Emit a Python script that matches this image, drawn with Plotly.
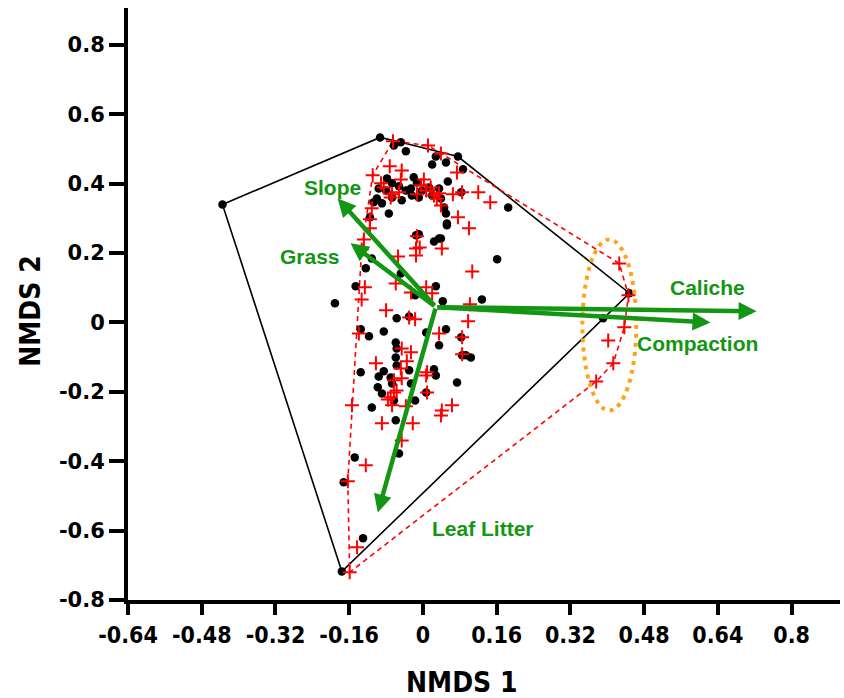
import plotly.graph_objects as go

# ---------------- data ----------------
# Group 1 (black dots) NMDS scores
black_x = [-0.435, -0.093, -0.048, 0.076, 0.448, 0.391, -0.176, -0.063, -0.037, 0.028,
           0.020, 0.050, 0.087, 0.054, -0.078, -0.067, -0.096, -0.080, -0.052, -0.037,
           -0.020, -0.013, -0.026, -0.024, -0.046, -0.067, -0.089, -0.100, -0.074, 0.035,
           0.039, 0.046, 0.050, 0.052, 0.013, 0.020, -0.002, -0.009, -0.115, -0.107,
           0.083, 0.039, 0.185, 0.161, 0.043, 0.128, 0.050, -0.009, 0.035, 0.024,
           -0.124, -0.111, -0.146, -0.191, 0.028, -0.017, -0.048, -0.057, -0.030, -0.135,
           -0.085, -0.117, -0.059, -0.057, -0.059, 0.035, -0.135, -0.096, -0.085, -0.070,
           -0.057, -0.030, -0.067, -0.098, -0.089, -0.026, 0.024, 0.028, 0.074, 0.085,
           0.104, 0.007, -0.017, -0.111, -0.063, -0.059, -0.052, -0.148, -0.172, -0.130,
           0.083, 0.093, 0.007, -0.015, 0.052]
black_y = [0.340, 0.533, 0.519, 0.478, 0.084, 0.012, -0.718, 0.510, 0.493, 0.478,
           0.455, 0.461, 0.441, 0.406, 0.415, 0.401, 0.386, 0.380, 0.392, 0.380,
           0.418, 0.403, 0.386, 0.366, 0.352, 0.360, 0.343, 0.357, 0.314, 0.386,
           0.357, 0.331, 0.314, 0.285, 0.389, 0.366, 0.380, 0.360, 0.303, 0.346,
           0.375, 0.242, 0.331, 0.182, 0.061, 0.066, -0.020, 0.254, 0.242, 0.233,
           0.156, 0.184, 0.104, 0.055, 0.104, 0.078, 0.141, 0.012, 0.017, -0.020,
           -0.026, -0.040, -0.058, -0.075, -0.101, -0.066, -0.144, -0.156, -0.141, -0.159,
           -0.124, -0.138, -0.176, -0.187, -0.205, -0.176, -0.135, -0.153, -0.173, -0.095,
           -0.101, -0.202, -0.225, -0.245, -0.225, -0.282, -0.378, -0.389, -0.461, -0.622,
           -0.043, -0.095, -0.029, 0.251, 0.280]

# Group 2 (red crosses) NMDS scores
red_x = [-0.159, -0.065, 0.011, 0.039, -0.072, -0.046, -0.109, -0.091, -0.048, 0.002,
         -0.067, -0.052, -0.085, -0.004, 0.007, 0.017, 0.024, -0.013, 0.035, 0.030,
         0.039, 0.074, 0.085, 0.065, 0.120, 0.076, 0.100, -0.070, -0.111, -0.115,
         -0.115, 0.146, 0.041, 0.107, 0.102, 0.098, -0.054, -0.015, -0.007, -0.128,
         -0.013, -0.015, -0.133, -0.126, -0.133, -0.059, 0.007, 0.020, -0.026, -0.080,
         -0.017, -0.030, 0.035, -0.139, 0.085, -0.046, -0.026, -0.102, -0.035, -0.048,
         -0.046, 0.007, 0.009, 0.085, -0.063, -0.063, -0.057, -0.070, -0.076, -0.067,
         0.009, -0.154, 0.063, 0.041, 0.039, -0.037, -0.089, -0.022, -0.046, -0.124,
         -0.163, -0.143, 0.426, 0.446, 0.437, 0.402, 0.413, 0.376]
red_y = [-0.720, 0.522, 0.510, 0.487, 0.450, 0.438, 0.424, 0.401, 0.412, 0.412,
         0.369, 0.375, 0.389, 0.395, 0.380, 0.389, 0.366, 0.369, 0.372, 0.357,
         0.337, 0.432, 0.375, 0.369, 0.375, 0.303, 0.271, 0.360, 0.329, 0.297,
         0.271, 0.346, 0.213, 0.147, 0.052, 0.003, 0.190, 0.213, 0.216, 0.239,
         0.248, 0.193, 0.210, 0.101, 0.066, 0.112, 0.101, 0.084, 0.086, 0.035,
         0.009, 0.014, -0.032, -0.032, -0.043, -0.075, -0.086, -0.118, -0.112, -0.133,
         -0.161, -0.153, -0.144, -0.092, -0.167, -0.202, -0.196, -0.216, -0.222, -0.239,
         -0.202, -0.239, -0.239, -0.254, -0.268, -0.242, -0.291, -0.291, -0.340, -0.412,
         -0.458, -0.648, 0.170, 0.078, -0.014, -0.052, -0.118, -0.170]

# Environmental vectors (fitted), common origin
vec_names = ["Slope", "Grass", "Caliche", "Compaction", "Leaf Litter"]
vec_origin = (0.028, 0.044)
vec_x = [-0.185, -0.157, 0.724, 0.624, -0.098]
vec_y = [0.357, 0.228, 0.032, 0.000, -0.548]

# Label positions for the vectors
label_x = [-0.196, -0.246, 0.617, 0.595, 0.130]
label_y = [0.390, 0.190, 0.101, -0.061, -0.594]

# Highlighted group (ellipse bounds)
ell_x = [0.346, 0.463]
ell_y = [-0.254, 0.239]

x_ticks = [-0.64, -0.48, -0.32, -0.16, 0, 0.16, 0.32, 0.48, 0.64, 0.8]
x_ticktext = ["-0.64", "-0.48", "-0.32", "-0.16", "0", "0.16", "0.32", "0.48", "0.64", "0.8"]
y_ticks = [-0.8, -0.6, -0.4, -0.2, 0, 0.2, 0.4, 0.6, 0.8]
y_ticktext = ["-0.8", "-0.6", "-0.4", "-0.2", "0", "0.2", "0.4", "0.6", "0.8"]


def convex_hull(xs, ys):
    pts = sorted(set(zip(xs, ys)))

    def cross(o, a, b):
        return (a[0] - o[0]) * (b[1] - o[1]) - (a[1] - o[1]) * (b[0] - o[0])

    lower, upper = [], []
    for p in pts:
        while len(lower) >= 2 and cross(lower[-2], lower[-1], p) <= 0:
            lower.pop()
        lower.append(p)
    for p in reversed(pts):
        while len(upper) >= 2 and cross(upper[-2], upper[-1], p) <= 0:
            upper.pop()
        upper.append(p)
    hull = lower[:-1] + upper[:-1]
    hull.append(hull[0])
    return [p[0] for p in hull], [p[1] for p in hull]


GREEN = "#139613"
NARROW = "DejaVu Sans Condensed, Liberation Sans Narrow, Liberation Sans"
fig = go.Figure()

bhx, bhy = convex_hull(black_x, black_y)
rhx, rhy = convex_hull(red_x, red_y)

fig.add_trace(go.Scatter(x=bhx, y=bhy, mode="lines",
                         line=dict(color="black", width=1.6), hoverinfo="skip"))
fig.add_trace(go.Scatter(x=rhx, y=rhy, mode="lines",
                         line=dict(color="#ff0000", width=1.6, dash="5px,4px"), hoverinfo="skip"))
fig.add_trace(go.Scatter(x=black_x, y=black_y, mode="markers",
                         marker=dict(symbol="circle", size=8.5, color="black")))
fig.add_trace(go.Scatter(x=red_x, y=red_y, mode="markers",
                         marker=dict(symbol="cross-thin", size=10,
                                     line=dict(color="#ff0000", width=2))))

# ellipse
fig.add_shape(type="circle", xref="x", yref="y",
              x0=ell_x[0], x1=ell_x[1], y0=ell_y[0], y1=ell_y[1],
              line=dict(color="#ffa31a", width=4, dash="4px,5px"))

# vectors
for name, vx, vy, lx, ly in zip(vec_names, vec_x, vec_y, label_x, label_y):
    fig.add_annotation(x=vx, y=vy, ax=vec_origin[0], ay=vec_origin[1],
                       xref="x", yref="y", axref="x", ayref="y", text="",
                       showarrow=True, arrowhead=2, arrowsize=0.8, arrowwidth=4.5,
                       arrowcolor=GREEN, standoff=0)
    fig.add_annotation(x=lx, y=ly, xref="x", yref="y", text=name, showarrow=False,
                       xanchor="center", yanchor="middle",
                       font=dict(family="Liberation Sans", size=21, color=GREEN, weight="bold"))

# axis titles
fig.add_annotation(x=0.469, y=-0.139, xref="paper", yref="paper", text="NMDS 1",
                   showarrow=False, xanchor="center", yanchor="middle",
                   font=dict(family=NARROW, size=28, color="black", weight="bold"))
fig.add_annotation(x=-0.138, y=0.488, xref="paper", yref="paper", text="NMDS 2",
                   showarrow=False, xanchor="center", yanchor="middle", textangle=-90,
                   font=dict(family=NARROW, size=28, color="black", weight="bold"))

fig.update_layout(
    width=844, height=698,
    margin=dict(l=128, r=4, t=8, b=98),
    paper_bgcolor="white", plot_bgcolor="white",
    showlegend=False,
    xaxis=dict(range=[-0.64, 0.905], tickvals=x_ticks, ticktext=x_ticktext,
               showgrid=False, zeroline=False, showline=True, linecolor="black", linewidth=4,
               ticks="outside", ticklen=11, tickwidth=4, tickcolor="black",
               tickfont=dict(family=NARROW, size=23, color="black", weight="bold")),
    yaxis=dict(range=[-0.8, 0.906], tickvals=y_ticks, ticktext=y_ticktext,
               showgrid=False, zeroline=False, showline=True, linecolor="black", linewidth=4,
               ticks="outside", ticklen=15, tickwidth=4, tickcolor="black",
               tickfont=dict(family="DejaVu Sans", size=21, color="black", weight="bold")),
)

fig.write_html("out.html")
